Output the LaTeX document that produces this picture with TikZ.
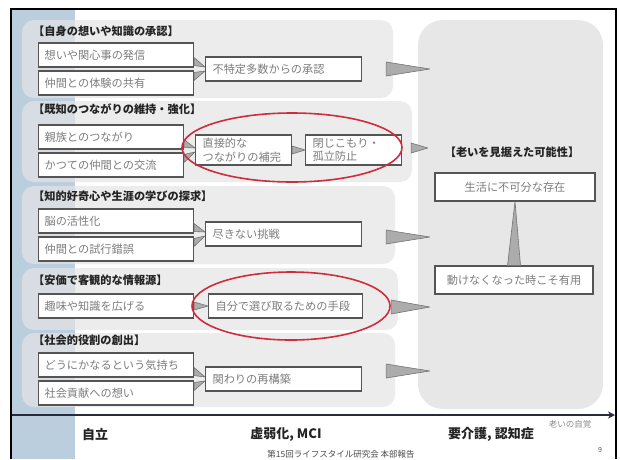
\documentclass[tikz,border=0pt]{standalone}
\usepackage{fontspec}
\setmainfont{Noto Sans CJK JP}
\usetikzlibrary{calc,arrows.meta}
\definecolor{band}{RGB}{186,206,222}
\definecolor{grp}{RGB}{228,228,228}
\definecolor{rgrp}{RGB}{231,231,231}
\definecolor{boxline}{RGB}{85,85,85}
\definecolor{txtgray}{RGB}{125,125,125}
\definecolor{ttl}{RGB}{35,35,35}
\definecolor{arrfill}{RGB}{172,172,172}
\definecolor{arrline}{RGB}{115,115,115}
\definecolor{ovalred}{RGB}{205,45,60}
\definecolor{axiscol}{RGB}{40,44,58}
\newcommand\wedgearrow[3]{\filldraw[wedge] ($(#1)+(0,-#3)$) -- ($(#1)+(0,#3)$) -- (#2) -- cycle;}
\begin{document}
\begin{tikzpicture}[x=1pt,y=-1pt,
  every node/.style={font=\fontsize{11.2}{13.5}\selectfont},
  grpbox/.style={fill=grp, fill opacity=0.7, rounded corners=12pt},
  inbox/.style={draw=boxline, line width=1.1pt, fill=white, text=txtgray, minimum height=24pt, text width=#1, align=left, inner xsep=6pt, inner ysep=2pt, anchor=west},
  resbox/.style={draw=boxline, line width=1.1pt, fill=white, text=txtgray, minimum height=24pt, text width=#1, align=left, inner xsep=7pt, inner ysep=2pt, anchor=west},
  rbbox/.style={draw=boxline, line width=1.1pt, fill=white, text=txtgray, minimum height=28pt, text width=#1, align=center, inner xsep=4pt, inner ysep=2pt},
  ttlnode/.style={text=ttl, font=\fontsize{11.2}{13.5}\selectfont\bfseries, anchor=west, inner sep=0pt},
  wedge/.style={fill=arrfill, draw=arrline, line width=0.6pt, line join=round},
  oval/.style={draw=ovalred, line width=1.6pt},
  axislbl/.style={text=ttl, font=\fontsize{13}{15}\selectfont\bfseries, inner sep=0pt}
]
\useasboundingbox (0,0) rectangle (620,459);
\fill[white] (0,0) rectangle (620,459);
% left band
\fill[band] (12,10) rectangle (75,459);
% frame
\draw[black, line width=1.6pt] (11,459) -- (11,9) -- (616,9) -- (616,459);

% group backgrounds
\fill[grpbox] (22,20) rectangle (393,98);
\fill[grpbox] (22,101) rectangle (412,182);
\fill[grpbox] (22,186) rectangle (395,264);
\fill[grpbox] (22,268) rectangle (398,330);
\fill[grpbox] (22,333) rectangle (395,407);
\node[fill=rgrp, rounded corners=25pt, minimum width=185pt, minimum height=389pt, inner sep=0pt] (rbox) at (510.5,214.5) {};

% group 1
\node[ttlnode] (t1) at (33,31) {【自身の想いや知識の承認】};
\node[inbox=143pt] (i1a) at (38,55) {想いや関心事の発信};
\node[inbox=143pt] (i1b) at (38,83) {仲間との体験の共有};
\node[resbox=142pt] (r1) at (205,69) {不特定多数からの承認};
\coordinate (s1a) at ($(i1a.south east)+(0,-6)$);
\coordinate (s1b) at ($(i1b.north east)+(0,6)$);
\coordinate (e1a) at ($(r1.west)+(0,-2)$);
\coordinate (e1b) at ($(r1.west)+(0,2)$);
\wedgearrow{s1a}{e1a}{4}
\wedgearrow{s1b}{e1b}{4}
\coordinate (b1) at ($(r1.east)+(24,0)$);
\coordinate (p1) at ($(rbox.west |- r1.east)+(12,0)$);
\wedgearrow{b1}{p1}{7}

% group 2
\node[ttlnode] (t2) at (33,109) {【既知のつながりの維持・強化】};
\node[inbox=133pt] (i2a) at (38,137) {親族とのつながり};
\node[inbox=133pt] (i2b) at (38,165) {かつての仲間との交流};
\node[resbox=82pt, minimum height=30pt] (r2a) at (195,150) {直接的な\\つながりの補完};
\node[resbox=82pt, minimum height=30pt] (r2b) at (305,150) {閉じこもり・\\孤立防止};
\coordinate (s2a) at ($(i2a.south east)+(0,-6)$);
\coordinate (s2b) at ($(i2b.north east)+(0,6)$);
\coordinate (e2a) at ($(r2a.west)+(0,-2)$);
\coordinate (e2b) at ($(r2a.west)+(0,2)$);
\wedgearrow{s2a}{e2a}{4}
\wedgearrow{s2b}{e2b}{4}
\wedgearrow{r2a.east}{r2b.west}{4}
\coordinate (b2) at ($(r2b.east)+(9,-2)$);
\coordinate (p2) at ($(rbox.west |- b2)+(10,0)$);
\wedgearrow{b2}{p2}{5}
\draw[oval] (292,147.5) ellipse [x radius=110pt, y radius=34.5pt];

% group 3
\node[ttlnode] (t3) at (33,196) {【知的好奇心や生涯の学びの探求】};
\node[inbox=143pt] (i3a) at (38,221) {脳の活性化};
\node[inbox=143pt] (i3b) at (38,249) {仲間との試行錯誤};
\node[resbox=142pt] (r3) at (205,234) {尽きない挑戦};
\coordinate (s3a) at ($(i3a.south east)+(0,-6)$);
\coordinate (s3b) at ($(i3b.north east)+(0,6)$);
\coordinate (e3a) at ($(r3.west)+(0,-2)$);
\coordinate (e3b) at ($(r3.west)+(0,2)$);
\wedgearrow{s3a}{e3a}{4}
\wedgearrow{s3b}{e3b}{4}
\coordinate (b3) at ($(r3.east)+(24,3)$);
\coordinate (p3) at ($(rbox.west |- b3)+(12,0)$);
\wedgearrow{b3}{p3}{7}

% group 4
\node[ttlnode] (t4) at (33,280) {【安価で客観的な情報源】};
\node[inbox=143pt] (i4) at (38,306) {趣味や知識を広げる};
\node[resbox=140pt] (r4) at (208,306) {自分で選び取るための手段};
\wedgearrow{i4.east}{r4.west}{4}
\coordinate (b4) at ($(r4.east)+(28,1)$);
\coordinate (p4) at ($(rbox.west |- b4)+(12,0)$);
\wedgearrow{b4}{p4}{7}
\draw[oval] (291,306) ellipse [x radius=99pt, y radius=34pt];

% group 5
\node[ttlnode] (t5) at (33,340) {【社会的役割の創出】};
\node[inbox=143pt] (i5a) at (38,365) {どうにかなるという気持ち};
\node[inbox=143pt] (i5b) at (38,393) {社会貢献への想い};
\node[resbox=142pt] (r5) at (205,379) {関わりの再構築};
\coordinate (s5a) at ($(i5a.south east)+(0,-6)$);
\coordinate (s5b) at ($(i5b.north east)+(0,6)$);
\coordinate (e5a) at ($(r5.west)+(0,-2)$);
\coordinate (e5b) at ($(r5.west)+(0,2)$);
\wedgearrow{s5a}{e5a}{4}
\wedgearrow{s5b}{e5b}{4}
\coordinate (b5) at ($(r5.east)+(24,-8)$);
\coordinate (p5) at ($(rbox.west |- b5)+(12,0)$);
\wedgearrow{b5}{p5}{7}

% right box
\node[text=ttl, font=\fontsize{11.2}{13.5}\selectfont\bfseries] (rt) at (512,152) {【老いを見据えた可能性】};
\node[rbbox=152pt] (ra) at (515,187) {生活に不可分な存在};
\node[rbbox=150pt] (rb) at (514,280) {動けなくなった時こそ有用};
\filldraw[wedge] ($(rb.north)+(-6.5,0)$) -- ($(rb.north)+(6.5,0)$) -- (ra.south) -- cycle;

% axis
\coordinate (ax0) at (12,415);
\coordinate (ax1) at (615,415);
\draw[axiscol, line width=2.4pt, -{Stealth[length=7pt,width=7pt]}] (ax0) -- (ax1);
\node[axislbl] (l1) at (95,435) {自立};
\node[axislbl] (l2) at (286,434) {虚弱化, MCI};
\node[axislbl] (l3) at (491,434) {要介護, 認知症};
\node[text=black!45, font=\fontsize{8.5}{10}\selectfont, inner sep=0pt] (l4) at (570,424) {老いの自覚};
\node[text=black!70, font=\fontsize{8.5}{10}\selectfont, inner sep=0pt] (foot) at (341,454) {第15回ライフスタイル研究会 本部報告};
\node[text=black!70, font=\fontsize{7}{8}\selectfont, inner sep=0pt] (pg) at (600,450) {9};
\end{tikzpicture}
\end{document}
